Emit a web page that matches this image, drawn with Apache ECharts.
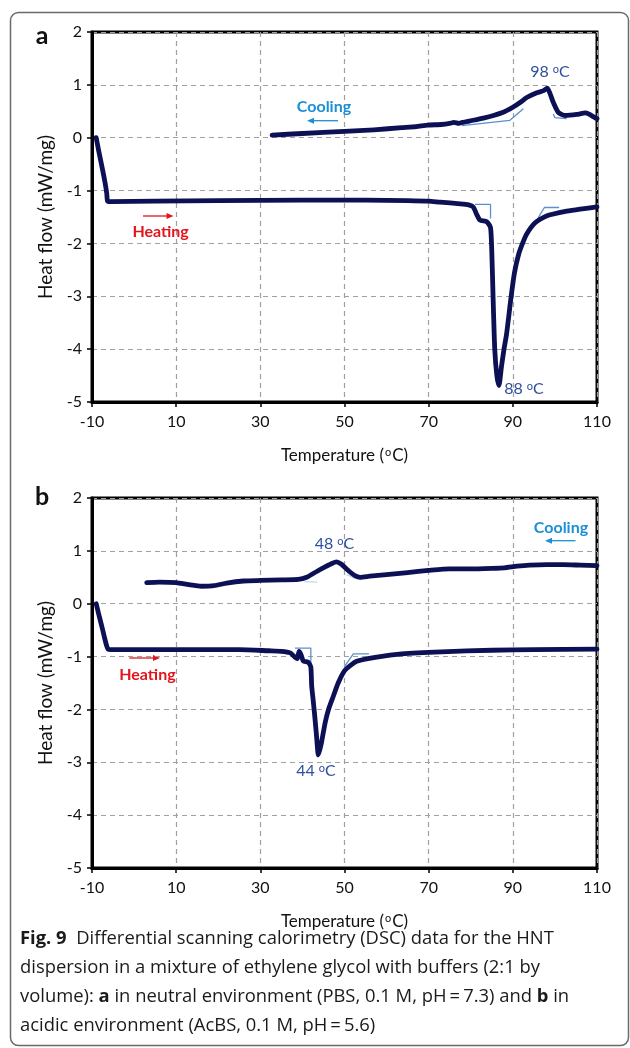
<!DOCTYPE html>
<html><head><meta charset="utf-8">
<script src="https://cdn.jsdelivr.net/npm/echarts@6/dist/echarts.min.js"></script>
<style>html,body{margin:0;padding:0;background:#fff;}#c{width:630px;height:1048px;}</style>
</head><body><div id="c"></div>
<script>
// ---------- DATA ----------
const xTickValues = [-10, 10, 30, 50, 70, 90, 110];
const yTickValues = [-5, -4, -3, -2, -1, 0, 1, 2];

// Panel a (neutral, PBS)
const heatingA = [[-9.0,0],[-8.4,-0.25],[-7.5,-0.6],[-6.9,-0.85],[-6.5,-1.05],[-6.3,-1.2],[-5.5,-1.21],[5,-1.2],[20,-1.19],[40,-1.18],[55,-1.18],[65,-1.19],[70,-1.2],[72.7,-1.22],[77.5,-1.25],[79.5,-1.27],[80.6,-1.31],[81.4,-1.45],[82.2,-1.56],[83.8,-1.59],[84.7,-1.7],[85.0,-2.15],[85.3,-3.0],[85.7,-4.0],[86.2,-4.5],[86.7,-4.69],[87.3,-4.33],[87.9,-4.0],[88.5,-3.72],[89.0,-3.4],[89.6,-3.0],[90.4,-2.55],[91.4,-2.2],[92.4,-1.98],[93.3,-1.82],[95.3,-1.61],[98.0,-1.48],[102.8,-1.39],[106,-1.35],[110,-1.31]];
const coolingA = [[32.8,0.05],[40,0.08],[50,0.12],[57,0.15],[63.6,0.19],[67,0.21],[69.8,0.24],[73,0.25],[75,0.27],[76,0.29],[77.2,0.27],[78,0.29],[80.6,0.33],[83,0.37],[85.4,0.42],[88,0.49],[90.1,0.58],[91.8,0.67],[93.3,0.76],[95.7,0.85],[97.3,0.89],[98.2,0.94],[99.0,0.8],[99.6,0.67],[100.8,0.48],[102.4,0.42],[105.2,0.44],[107.2,0.47],[108,0.45],[109.5,0.38],[110,0.36]];
const tangentsA = [
  [[81.0,-1.26],[84.7,-1.26],[84.7,-1.53]],
  [[95.3,-1.61],[97.5,-1.32],[101,-1.32]],
  [[77.9,0.23],[89.3,0.33],[92.5,0.55]],
  [[99.6,0.45],[100.0,0.38],[102.8,0.36]]
];

// Panel b (acidic, AcBS)
const heatingB = [[-9.0,0],[-8.4,-0.2],[-7.6,-0.45],[-7.0,-0.65],[-6.5,-0.8],[-6.2,-0.86],[-5.5,-0.87],[5,-0.87],[15,-0.87],[25,-0.87],[32,-0.89],[35,-0.9],[37.1,-0.93],[38.2,-1.01],[38.8,-1.04],[39.2,-0.9],[39.6,-0.95],[40.2,-1.08],[41.4,-1.11],[42.0,-1.2],[42.2,-1.55],[42.6,-1.86],[42.9,-2.1],[43.3,-2.45],[43.8,-2.86],[44.5,-2.64],[45.4,-2.25],[46.2,-2.0],[47.3,-1.76],[48.5,-1.5],[50.1,-1.26],[52.9,-1.09],[57.7,-1.01],[63.6,-0.95],[73,-0.91],[85,-0.88],[95,-0.87],[110,-0.86]];
const coolingB = [[3.0,0.4],[6,0.41],[10,0.4],[13,0.36],[16,0.33],[19,0.34],[22,0.39],[26,0.43],[30,0.44],[35,0.45],[39,0.46],[41,0.5],[43.4,0.61],[45.5,0.7],[47,0.76],[48.1,0.79],[49.2,0.75],[50.3,0.67],[51.3,0.6],[52.5,0.53],[53.7,0.5],[56,0.52],[60,0.55],[65,0.59],[70,0.63],[75,0.66],[80,0.66],[85,0.67],[88,0.68],[91,0.71],[94,0.73],[98,0.74],[102,0.74],[106,0.73],[110,0.72]];
const tangentsB = [
  [[38.2,-0.84],[42.0,-0.84],[42.0,-1.14]],
  [[49.9,-1.2],[52.1,-0.95],[55.8,-0.95]],
  [[40.5,0.42],[43.5,0.41]],
  [[50.5,0.55],[52.5,0.48],[55,0.49]]
];

// ---------- CHART ----------
const NAVY = '#0c1054';
const TAN = '#5a8fd2';
const FONT = 'Lato';
const chart = echarts.init(document.getElementById('c'), null, {renderer:'canvas'});

function grid(top){ return {left:92, top:top, width:505, height:370, show:true, borderColor:'#000', borderWidth:3, backgroundColor:'transparent'}; }
function xAxis(gi){ return {type:'value', gridIndex:gi, min:xTickValues[0], max:xTickValues[xTickValues.length-1], interval:20,
  name:'Temperature ({s|o}C)', nameLocation:'middle', nameGap:45,
  nameTextStyle:{fontFamily:FONT, fontSize:17, color:'#111', rich:{s:{fontFamily:FONT, fontSize:11, color:'#111', verticalAlign:'top', lineHeight:15, padding:[0,1,0,1]}}},
  axisLine:{show:true, onZero:false, lineStyle:{color:'#000', width:3}},
  axisTick:{show:true, length:5, lineStyle:{color:'#000', width:1.5}},
  axisLabel:{fontFamily:FONT, fontSize:16, color:'#111', margin:12},
  splitLine:{show:true, lineStyle:{color:'#a0a0a0', width:1.2, type:[5,4]}}}; }
function yAxis(gi){ return {type:'value', gridIndex:gi, min:yTickValues[0], max:yTickValues[yTickValues.length-1], interval:1,
  name:'Heat flow (mW/mg)', nameLocation:'middle', nameGap:37, nameRotate:90,
  nameTextStyle:{fontFamily:FONT, fontSize:19, color:'#111'},
  axisLine:{show:true, onZero:false, lineStyle:{color:'#000', width:3}},
  axisTick:{show:true, length:5, lineStyle:{color:'#000', width:1.5}},
  axisLabel:{fontFamily:FONT, fontSize:16, color:'#111', margin:10},
  splitLine:{show:true, lineStyle:{color:'#a0a0a0', width:1.2, type:[5,4]}}}; }

function curve(data, gi){ return {type:'line', xAxisIndex:gi, yAxisIndex:gi, data:data, showSymbol:false, smooth:0.2, z:5,
  lineStyle:{color:NAVY, width:4.8, cap:'round', join:'round'}, silent:true, animation:false}; }
function tang(data, gi, op){ return {type:'line', xAxisIndex:gi, yAxisIndex:gi, data:data, showSymbol:false, z:4,
  lineStyle:{color:TAN, width:1.3, opacity:op}, silent:true, animation:false}; }

const series = [curve(heatingA,0), curve(coolingA,0), curve(heatingB,1), curve(coolingB,1)];
tangentsA.forEach(t=>series.push(tang(t,0,1)));
tangentsB.forEach((t,i)=>series.push(tang(t,1, i<2?1:0.35)));

function txt(x,y,text,color,size,weight){
  return {type:'text', x:x, y:y, z:20, style:{text:text, fill:color, font:(weight||'normal')+' '+size+'px '+FONT, align:'center', verticalAlign:'middle'}};
}
function deg(x,y,num){
  return {type:'text', x:x, y:y, z:20, style:{text:num+' {s|o}C', fill:'#2d4f9e', fontFamily:FONT, fontSize:16, align:'center', verticalAlign:'middle',
    rich:{s:{fill:'#2d4f9e', fontFamily:FONT, fontSize:11, verticalAlign:'top', lineHeight:15}}}};
}
function arrow(x1,y,x2,color){
  const dir = x2>x1?1:-1;
  return {type:'group', z:20, children:[
    {type:'line', shape:{x1:x1,y1:y,x2:x2-dir*5,y2:y}, style:{stroke:color, lineWidth:1.3}},
    {type:'polygon', shape:{points:[[x2,y],[x2-dir*7,y-3],[x2-dir*7,y+3]]}, style:{fill:color}}
  ]};
}
const RED = '#e3141c', LBLUE = '#1c8fd6';
const graphic = [
  {type:'rect', shape:{x:10.5, y:12.5, width:618, height:1033, r:8}, style:{fill:'none', stroke:'#6a6a6a', lineWidth:1.5}, z:0},
  txt(42,36,'a','#111',25,'bold'),
  txt(42,497,'b','#111',25,'bold'),
  deg(550,72,'98'), deg(524,389,'88'),
  txt(324,107,'Cooling',LBLUE,16,'bold'), arrow(338,120.7,307,LBLUE),
  txt(160.6,231.7,'Heating',RED,16,'bold'), arrow(143,216,173.5,RED),
  deg(334.5,544,'48'), deg(316,771,'44'),
  txt(561,528,'Cooling',LBLUE,16,'bold'), arrow(575.5,540.7,545,LBLUE),
  txt(147.4,675,'Heating',RED,16,'bold'), arrow(129.3,658,160,RED)
];
const CAPF = 18.4;
const capRich = {b:{fontFamily:'Open Sans', fontWeight:'bold', fontSize:CAPF, fill:'#1a1a1a'}};
const capLines = [
  '{b|Fig. 9}  Differential scanning calorimetry (DSC) data for the HNT',
  'dispersion in a mixture of ethylene glycol with buffers (2:1 by',
  'volume): {b|a} in neutral environment (PBS, 0.1 M, pH\u2009=\u20097.3) and {b|b} in',
  'acidic environment (AcBS, 0.1 M, pH\u2009=\u20095.6)'
];
capLines.forEach((t,i)=>graphic.push({type:'text', x:20, y:939+i*29, z:20, style:{text:t, fill:'#1a1a1a', fontFamily:'Open Sans', fontSize:CAPF, fontWeight:'normal', align:'left', verticalAlign:'middle', rich:capRich}}));

chart.setOption({
  animation:false,
  backgroundColor:'#fff',
  grid:[grid(32), grid(498)],
  xAxis:[xAxis(0), xAxis(1)],
  yAxis:[yAxis(0), yAxis(1)],
  series:series,
  graphic:graphic
});
</script></body></html>
